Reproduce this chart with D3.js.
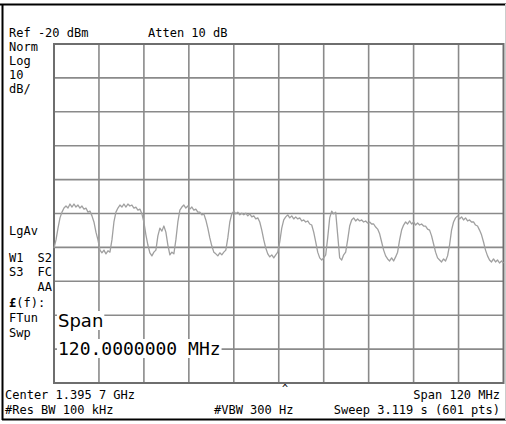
<!DOCTYPE html>
<html><head><meta charset="utf-8">
<script src="https://cdn.jsdelivr.net/npm/d3@7"></script>
<style>
body{margin:0;background:#fff}
svg text{font-family:"DejaVu Sans Mono",monospace;font-size:12px;fill:#000}
</style>
</head><body><svg id="c" width="506" height="424"></svg>
<script>
// ---- data ----
const refLevelDbm = -20;
const dbPerDiv = 10;
const centerMHz = 1395.7;
const spanMHz = 120;
const ampTicks = [-20, -30, -40, -50, -60, -70, -80, -90, -100, -110, -120];
const freqTicks = [1335.7, 1347.7, 1359.7, 1371.7, 1383.7, 1395.7, 1407.7, 1419.7, 1431.7, 1443.7, 1455.7];
const traceDbm = [
 -80.2,-77.8,-74.3,-71.3,-69.6,-68.4,-67.8,-68.4,-67.2,-68.1,-67.2,-68.1,-67.5,-68.4,-67.8,-68.7,-68.4,-69.6,-69.3,-70.7,
 -72.5,-75.5,-77.8,-80.8,-81.6,-80.8,-81.9,-81.0,-81.4,-77.8,-72.5,-69.6,-68.4,-67.5,-68.1,-67.2,-68.1,-67.2,-67.8,-67.5,
 -68.4,-68.1,-69.0,-68.7,-70.1,-72.5,-76.3,-79.3,-81.6,-82.5,-81.4,-80.8,-76.6,-74.3,-75.2,-73.7,-75.5,-79.3,-82.2,-81.4,
 -81.9,-77.8,-72.5,-69.0,-68.1,-67.5,-68.4,-67.8,-68.7,-68.1,-69.0,-68.7,-69.6,-69.6,-70.4,-70.1,-71.9,-74.3,-77.2,-79.6,
 -81.4,-81.9,-82.5,-81.6,-82.2,-81.4,-80.8,-77.2,-72.5,-70.1,-69.3,-70.1,-69.6,-70.4,-69.9,-70.4,-69.9,-70.7,-70.1,-71.0,
 -70.7,-71.6,-71.3,-72.5,-74.9,-77.8,-80.2,-81.9,-82.8,-82.2,-83.1,-82.2,-81.4,-78.4,-74.3,-71.9,-71.0,-70.4,-71.3,-70.7,
 -71.6,-71.0,-71.6,-71.3,-72.2,-71.9,-72.5,-72.2,-73.1,-73.4,-75.5,-78.4,-81.4,-83.1,-83.7,-83.1,-82.2,-77.2,-71.3,-69.3,
 -70.1,-69.6,-76.3,-83.1,-83.7,-82.2,-81.4,-77.8,-73.7,-71.9,-71.3,-72.2,-71.6,-72.2,-71.9,-72.5,-72.2,-72.8,-72.5,-73.1,
 -73.1,-74.0,-74.6,-76.0,-78.4,-80.8,-82.5,-83.4,-84.0,-83.1,-84.0,-82.8,-81.4,-77.8,-74.9,-73.4,-72.5,-73.1,-72.2,-73.1,
 -72.5,-73.4,-72.8,-73.4,-73.1,-73.7,-73.7,-74.6,-74.9,-76.6,-79.0,-81.4,-83.1,-83.7,-84.3,-83.4,-84.0,-82.5,-79.3,-74.9,
 -72.5,-71.3,-70.7,-71.6,-71.0,-71.9,-71.3,-72.2,-71.9,-72.5,-72.5,-73.4,-73.7,-74.9,-76.3,-78.4,-80.8,-82.5,-83.7,-84.3,
 -83.4,-84.3,-83.7,-84.6,-84.0,-84.6
];
const topLabels = ["Ref -20 dBm", "Atten 10 dB"];
const sideTopLabels = ["Norm", "Log", "10", "dB/"];
const sideLowLabels = ["LgAv"];
const bottomLeft = ["Center 1.395 7 GHz", "#Res BW 100 kHz"];
const bottomMid = ["#VBW 300 Hz"];
const bottomRight = ["Span 120 MHz", "Sweep 3.119 s (601 pts)"];
const activeLabel = ["Span", "120.0000000 MHz"];

// ---- drawing ----
const svg = d3.select("#c");
const L = 54, R = 503.5, T = 44, B = 383;
const x = d3.scaleLinear().domain([centerMHz - spanMHz/2, centerMHz + spanMHz/2]).range([L, R]);
const y = d3.scaleLinear().domain([refLevelDbm - dbPerDiv*10, refLevelDbm]).range([B, T]);

// outer frame
svg.append("line").attr("x1",0).attr("x2",506).attr("y1",4.5).attr("y2",4.5).attr("stroke","#000").attr("stroke-width",2);
svg.append("line").attr("x1",2.5).attr("x2",2.5).attr("y1",4).attr("y2",420).attr("stroke","#000").attr("stroke-width",2);
svg.append("line").attr("x1",2).attr("x2",506).attr("y1",419.5).attr("y2",419.5).attr("stroke","#000").attr("stroke-width",2);
svg.append("line").attr("x1",505.5).attr("x2",505.5).attr("y1",4).attr("y2",420).attr("stroke","#ccc").attr("stroke-width",1);

// grid
const g = svg.append("g");
g.selectAll("line.v").data(freqTicks.slice(1,-1)).join("line")
  .attr("x1",d=>x(d)).attr("x2",d=>x(d)).attr("y1",T).attr("y2",B)
  .attr("stroke","#8a8a8a").attr("stroke-width",1.6);
g.selectAll("line.h").data(ampTicks.slice(1,-1)).join("line")
  .attr("y1",d=>y(d)).attr("y2",d=>y(d)).attr("x1",L).attr("x2",R)
  .attr("stroke","#8a8a8a").attr("stroke-width",1.6);
g.append("rect").attr("x",L).attr("y",T).attr("width",R-L).attr("height",B-T)
  .attr("fill","none").attr("stroke","#6e6e6e").attr("stroke-width",2);

// trace
const f0 = centerMHz - spanMHz/2, df = spanMHz/(traceDbm.length-1);
const line = d3.line().x((d,i)=>x(f0 + i*df)).y(d=>y(d));
svg.append("path").datum(traceDbm).attr("d",line)
  .attr("fill","none").attr("stroke","#a0a0a0").attr("stroke-width",1.3).attr("stroke-linejoin","round");

// active function text with white background
const act = svg.append("g");
const actPos = [{x:58, y:327, fam:"DejaVu Sans"}, {x:58, y:355, fam:"DejaVu Sans Mono"}];
activeLabel.forEach((t,i)=>{
  const tx = act.append("text").attr("x",actPos[i].x).attr("y",actPos[i].y)
    .style("font-family",actPos[i].fam).style("font-size","18px").text(t);
  const bb = tx.node().getBBox();
  act.insert("rect","text").attr("x",bb.x-1).attr("y",bb.y+1).attr("width",bb.width+2).attr("height",bb.height-2).attr("fill","#fff");
});

// top labels
svg.append("text").attr("x",9).attr("y",37).text(topLabels[0]);
svg.append("text").attr("x",148).attr("y",37).text(topLabels[1]);
// side labels
sideTopLabels.forEach((t,i)=>svg.append("text").attr("x",9).attr("y",51+i*14).text(t));
svg.append("text").attr("x",9).attr("y",235).text(sideLowLabels[0]);
svg.append("text").attr("x",9).attr("y",262).text("W1");
svg.append("text").attr("x",52).attr("y",262).attr("text-anchor","end").text("S2");
svg.append("text").attr("x",9).attr("y",276).text("S3");
svg.append("text").attr("x",52).attr("y",276).attr("text-anchor","end").text("FC");
svg.append("text").attr("x",52).attr("y",291).attr("text-anchor","end").text("AA");
const ft = svg.append("text").attr("x",9).attr("y",307);
ft.append("tspan").style("font-weight","bold").text("£");
ft.append("tspan").text("(f):");
svg.append("text").attr("x",9).attr("y",322).text("FTun");
svg.append("text").attr("x",9).attr("y",337).text("Swp");

// bottom labels
bottomLeft.forEach((t,i)=>svg.append("text").attr("x",5).attr("y",399+i*15).text(t));
svg.append("text").attr("x",214).attr("y",414).text(bottomMid[0]);
bottomRight.forEach((t,i)=>svg.append("text").attr("x",500).attr("y",399+i*15).attr("text-anchor","end").text(t));
svg.append("text").attr("x",285).attr("y",392).attr("text-anchor","middle").style("font-size","10px").text("^");
</script></body></html>
